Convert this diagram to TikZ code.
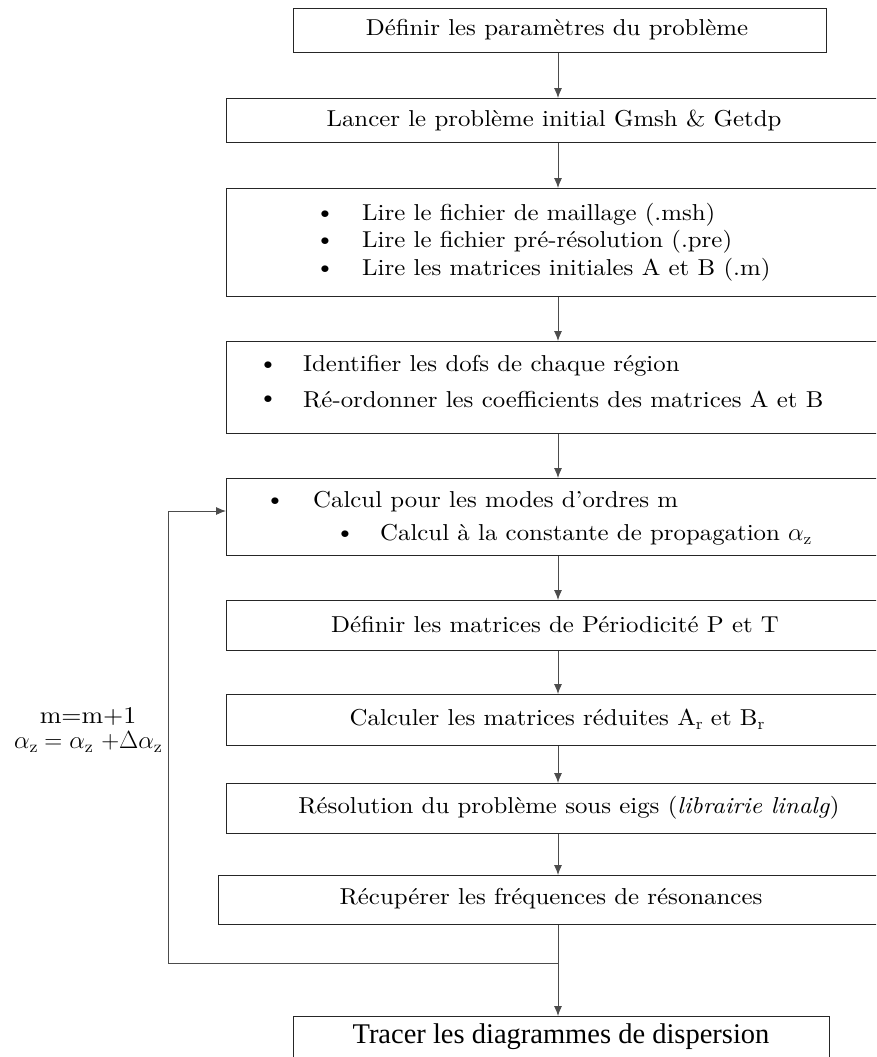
\documentclass[tikz,border=0pt]{standalone}
\usepackage{amsmath}
\usepackage{fontspec}
\setmainfont{lmroman10-regular}[Extension=.otf,
  BoldFont=lmroman10-bold, ItalicFont=lmroman10-italic,
  BoldItalicFont=lmroman10-bolditalic, FakeStretch=1.08]
\newfontfamily\tracefont{Liberation Serif}
\usetikzlibrary{arrows.meta}
\begin{document}
\begin{tikzpicture}[x=1pt,y=-1pt,
  box/.style={draw=black!85,line width=1.1pt,inner sep=0pt,anchor=north west},
  txt/.style={font=\fontsize{23}{27}\selectfont,inner sep=0pt},
  arr/.style={draw=black!70,line width=0.9pt,-{Latex[length=10pt,width=8pt]}},
  ln/.style={draw=black!70,line width=0.9pt}]
\useasboundingbox (0,0) rectangle (876,1057);
\clip (0,0) rectangle (876,1057);
% boxes
\node[box,minimum width=533pt,minimum height=44pt] (b1) at (293,8) {};
\node[box,minimum width=658pt,minimum height=44pt] (b2) at (226,98) {};
\node[box,minimum width=658pt,minimum height=108pt] (b3) at (226,188) {};
\node[box,minimum width=658pt,minimum height=92pt] (b4) at (226,341) {};
\node[box,minimum width=658pt,minimum height=77pt] (b5) at (226,478) {};
\node[box,minimum width=658pt,minimum height=50pt] (b6) at (226,600) {};
\node[box,minimum width=658pt,minimum height=51pt] (b7) at (226,694) {};
\node[box,minimum width=658pt,minimum height=50pt] (b8) at (226,783) {};
\node[box,minimum width=666pt,minimum height=49pt] (b9) at (218,875) {};
\node[box,minimum width=536pt,minimum height=60pt] (b10) at (293,1016) {};
% texts
\node[txt] (t1) at (557,30) {Définir les paramètres du problème};
\node[txt] (t2) at (554,120) {Lancer le problème initial Gmsh \& Getdp};
\node[txt] (t3a) at (325,215) {\textbullet};
\node[txt,anchor=west] (t3b) at (362,215) {Lire le fichier de maillage (.msh)};
\node[txt] (t3c) at (325,242) {\textbullet};
\node[txt,anchor=west] (t3d) at (362,242) {Lire le fichier pré-résolution (.pre)};
\node[txt] (t3e) at (325,270) {\textbullet};
\node[txt,anchor=west] (t3f) at (362,270) {Lire les matrices initiales A et B (.m)};
\node[txt] (t4a) at (268,366) {\textbullet};
\node[txt,anchor=west] (t4b) at (303,366) {Identifier les dofs de chaque région};
\node[txt] (t4c) at (268,400) {\textbullet};
\node[txt,anchor=west] (t4d) at (303,400) {Ré-ordonner les coefficients des matrices A et B};
\node[txt] (t5a) at (275,502) {\textbullet};
\node[txt,anchor=west] (t5b) at (313,502) {Calcul pour les modes d’ordres m};
\node[txt] (t5c) at (345,535) {\textbullet};
\node[txt,anchor=west] (t5d) at (380,535) {Calcul à la constante de propagation $\alpha_{\mathrm{z}}$};
\node[txt] (t6) at (555,625) {Définir les matrices de Périodicité P et T};
\node[txt] (t7) at (557,719) {Calculer les matrices réduites A$_{\mathrm{r}}$ et B$_{\mathrm{r}}$};
\node[txt] (t8) at (569,808) {Résolution du problème sous eigs (\textit{librairie linalg})};
\node[txt] (t9) at (551,899) {Récupérer les fréquences de résonances};
\node[inner sep=0pt,font=\tracefont\fontsize{28.5}{32}\selectfont] (t10) at (561,1037) {Tracer les diagrammes de dispersion};
\node[txt,align=center,font=\fontsize{24}{28}\selectfont] (lab) at (88,730) {m=m+1\\[-3pt] $\alpha_{\mathrm{z}} = \alpha_{\mathrm{z}}\ {+}\Delta\alpha_{\mathrm{z}}$};
% connectors
\coordinate (ax) at (558,0);
\draw[arr] (b1.south -| ax) -- (b2.north -| ax);
\draw[arr] (b2.south -| ax) -- (b3.north -| ax);
\draw[arr] (b3.south -| ax) -- (b4.north -| ax);
\draw[arr] (b4.south -| ax) -- (b5.north -| ax);
\draw[arr] (b5.south -| ax) -- (b6.north -| ax);
\draw[arr] (b6.south -| ax) -- (b7.north -| ax);
\draw[arr] (b7.south -| ax) -- (b8.north -| ax);
\draw[arr] (b8.south -| ax) -- (b9.north -| ax);
\coordinate (j) at (558,963);
\coordinate (lp) at (168,963);
\coordinate (lq) at (168,511);
\draw[ln] (b9.south -| ax) -- (j);
\draw[arr] (j) -- (b10.north -| ax);
\draw[arr] (j) -- (lp) -- (lq) -- (b5.west |- lq);
\end{tikzpicture}
\end{document}
